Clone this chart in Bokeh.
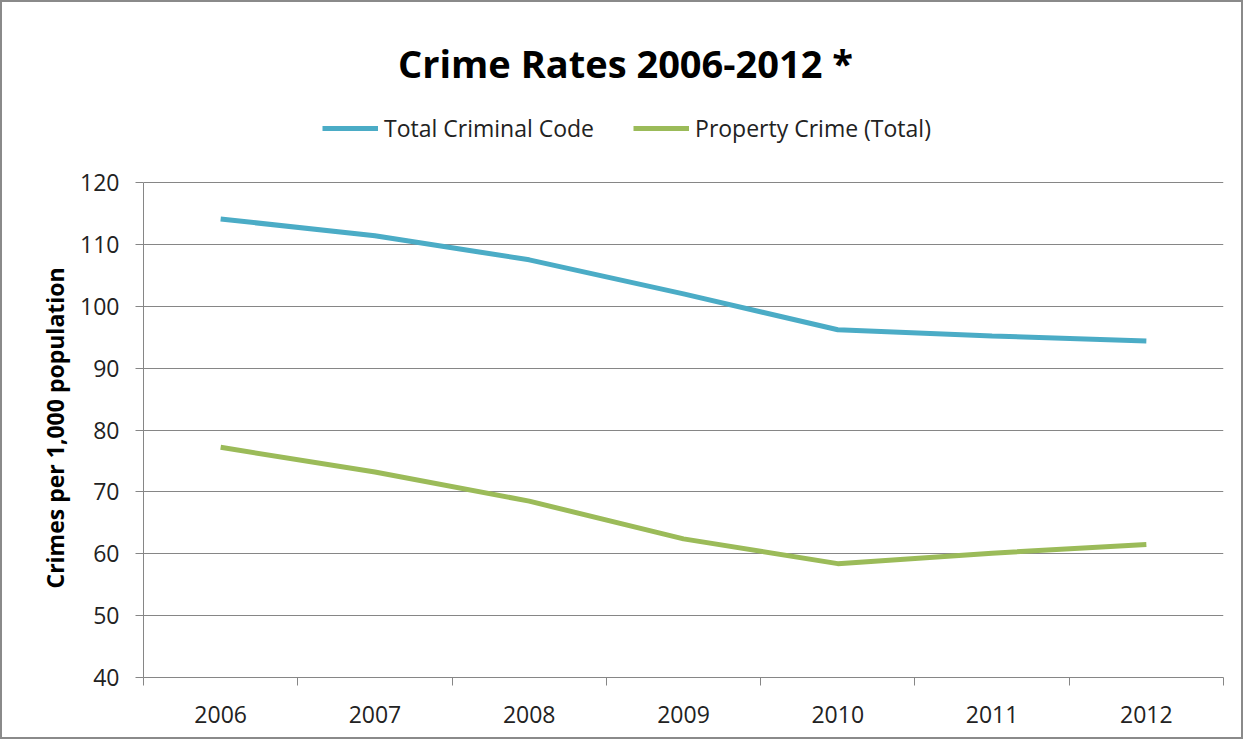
from bokeh.plotting import figure
from bokeh.models import FixedTicker, Legend, LegendItem, Label, Title, ColumnDataSource, Range1d
from bokeh.embed import file_html
from bokeh.resources import INLINE

years = [2006, 2007, 2008, 2009, 2010, 2011, 2012]
year_labels = ["2006", "2007", "2008", "2009", "2010", "2011", "2012"]
total_criminal_code = [114.1, 111.4, 107.5, 102.0, 96.2, 95.2, 94.4]
property_crime = [77.2, 73.2, 68.5, 62.4, 58.4, 60.1, 61.5]
y_ticks = [40, 50, 60, 70, 80, 90, 100, 110, 120]

FONT = "Open Sans"
GRAY = "#868686"

# layout (pixels): the frame reaches up to hold title and legend; the value axis spans 495 px
FIG_W, FIG_H = 1243, 739
BORDER_L, BORDER_R, BORDER_T, BORDER_B = 141, 22, 8, 64
AXIS_PX = 495
frame_h = FIG_H - BORDER_T - BORDER_B
y_top = y_ticks[0] + (y_ticks[-1] - y_ticks[0]) * frame_h / AXIS_PX

src = ColumnDataSource(dict(year=years, tcc=total_criminal_code, pc=property_crime))

p = figure(width=FIG_W, height=FIG_H, output_backend="svg", toolbar_location=None,
           x_range=Range1d(years[0] - 0.5, years[-1] + 0.5),
           y_range=Range1d(y_ticks[0], y_top),
           min_border_left=BORDER_L, min_border_right=BORDER_R,
           min_border_top=BORDER_T, min_border_bottom=BORDER_B)
p.styles = {"border": "2px solid #8a8a8a"}
p.outline_line_color = None
p.background_fill_color = "white"
p.border_fill_color = "white"

r1 = p.line("year", "tcc", source=src, line_color="#4BACC6", line_width=5)
r2 = p.line("year", "pc", source=src, line_color="#9BBB59", line_width=5)

# x axis
p.xaxis.ticker = FixedTicker(ticks=years, minor_ticks=[y - 0.5 for y in years] + [years[-1] + 0.5])
p.xaxis.major_label_overrides = {y: l for y, l in zip(years, year_labels)}
p.xaxis.major_tick_out = 0
p.xaxis.major_tick_in = 0
p.xaxis.minor_tick_out = 8
p.xaxis.minor_tick_in = 0
p.xaxis.minor_tick_line_color = GRAY
p.xaxis.axis_line_color = GRAY
p.xaxis.major_label_standoff = 20
p.xaxis.major_label_text_font = FONT
p.xaxis.major_label_text_font_size = "23px"
p.xaxis.major_label_text_color = "#222222"
p.xgrid.visible = False

# y axis
p.yaxis.ticker = FixedTicker(ticks=y_ticks)
p.yaxis.bounds = (y_ticks[0], y_ticks[-1])
p.yaxis.minor_tick_line_color = None
p.yaxis.major_tick_out = 8
p.yaxis.major_tick_in = 0
p.yaxis.major_tick_line_color = GRAY
p.yaxis.axis_line_color = GRAY
p.yaxis.major_label_standoff = 16
p.yaxis.major_label_text_font = FONT
p.yaxis.major_label_text_font_size = "23px"
p.yaxis.major_label_text_color = "#222222"
p.ygrid.grid_line_color = GRAY
p.ygrid.grid_line_width = 1

# y axis title, placed along the value axis (bottom-aligned, shifted up)
ytitle = Title(text="Crimes per 1,000 population", align="left", offset=89,
               text_font=FONT, text_font_style="bold", text_font_size="23px",
               text_color="black", standoff=14)
p.add_layout(ytitle, "left")

# title
title = Label(x=482, y=615, x_units="screen", y_units="screen", text="Crime Rates 2006-2012 *",
              text_font=FONT, text_font_style="bold", text_font_size="38px",
              text_align="center", text_baseline="middle", text_color="black")
p.add_layout(title)

# legend
legend = Legend(items=[LegendItem(label="Total Criminal Code", renderers=[r1]),
                       LegendItem(label="Property Crime (Total)", renderers=[r2])],
                orientation="horizontal", location=(179, 533),
                glyph_width=56, glyph_height=20, label_standoff=6, spacing=39,
                padding=0, margin=0, border_line_color=None, background_fill_alpha=0,
                label_text_font=FONT, label_text_font_size="23px", label_text_color="#222222")
p.add_layout(legend, "center")

open("out.html", "w").write(file_html(p, INLINE))
